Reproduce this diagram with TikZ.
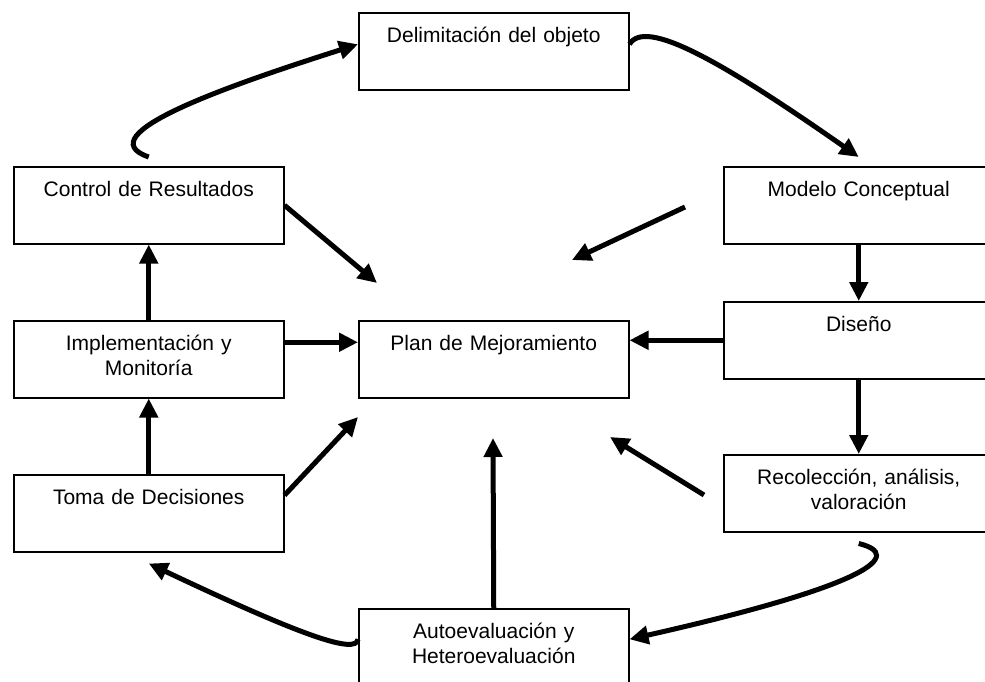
\documentclass[tikz,border=0pt]{standalone}
\usepackage{fontspec}
\setmainfont{Liberation Sans}
\usetikzlibrary{arrows.meta, calc, positioning}

\tikzset{
  box/.style={draw, line width=1.5pt, anchor=north west, inner xsep=5pt, inner ysep=0pt,
    text width=260pt, align=center, text height=30pt, text depth=47pt,
    font=\fontsize{21}{24.5}\selectfont},
  flow/.style={line width=5pt, >={Triangle[length=19pt, width=18pt]}, ->},
}

\begin{document}
\begin{tikzpicture}[x=1pt, y=-1pt]
\useasboundingbox (0,0) rectangle (985,681);
\clip (0,0) rectangle (985,681);

\node[box] (delim) at (358, 12) {Delimitación del objeto};
\node[box] (ctrl) at (13, 166) {Control de Resultados};
\node[box] (model) at (723, 166) {Modelo Conceptual};
\node[box] (impl) at (13, 320) {Implementación y\\ Monitoría};
\node[box] (plan) at (358, 320) {Plan de Mejoramiento};
\node[box] (disenio) at (723, 301) {Diseño};
\node[box] (toma) at (13, 474) {Toma de Decisiones};
\node[box] (recol) at (723, 454) {Recolección, análisis,\\ valoración};
\node[box] (auto) at (358, 608) {Autoevaluación y\\ Heteroevaluación};

% loose ends round the plan
\coordinate (ctrltip) at (377, 283);
\coordinate (modeltail) at (685, 207);
\coordinate (modeltip) at (572, 260);
\coordinate (tomatip) at (358, 417);
\coordinate (recoltail) at (704, 495);
\coordinate (recoltip) at (610, 437);
\coordinate (autotip) at (493, 438);

\draw[flow] (impl) -- (ctrl);
\draw[flow] (toma) -- (impl);
\draw[flow] (model) -- (disenio);
\draw[flow] (disenio) -- (recol);
\draw[flow] ([yshift=17pt]impl.east) -- ([yshift=17pt]plan.west);
\draw[flow] (disenio.west) -- (disenio.west -| plan.east);
\draw[flow] (ctrl.east) -- (ctrltip);
\draw[flow] (modeltail) -- (modeltip);
\draw[flow] ([yshift=18pt]toma.east) -- (tomatip);
\draw[flow] (recoltail) -- (recoltip);
\draw[flow] (auto.north) -- (autotip);

% the outer cycle
\draw[flow] ([yshift=9pt]ctrl.north) .. controls (85,135) and (230,85) .. ([yshift=7pt]delim.west);
\draw[flow] ([yshift=7pt]delim.east) .. controls (645,18) and (720,60) .. ([yshift=9pt]model.north);
\draw[flow] ([yshift=-11pt]recol.south) .. controls (905,555) and (870,585) .. ([yshift=8pt]auto.east);
\draw[flow] ([yshift=8pt]auto.west) .. controls (356,655) and (300,635) .. ([yshift=-11pt]toma.south);
\end{tikzpicture}
\end{document}
